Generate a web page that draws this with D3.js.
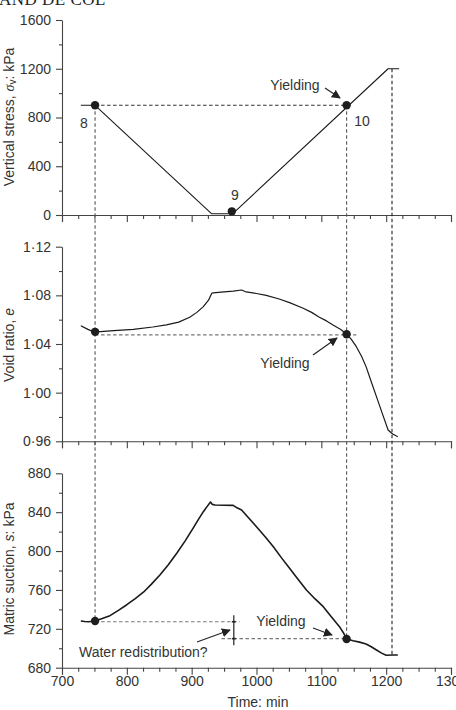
<!DOCTYPE html>
<html><head><meta charset="utf-8">
<script src="https://cdn.jsdelivr.net/npm/d3@7"></script>
<style>
html,body{margin:0;padding:0;background:#fff;}
svg{display:block;font-family:"Liberation Sans",Arial,sans-serif;}
</style></head>
<body><svg id="c" width="456" height="710"></svg>
<script>
// ---- data ----
const xTicks = [700, 800, 900, 1000, 1100, 1200, 1300];
const stressTicks = [0, 400, 800, 1200, 1600];
const voidTicks = [0.96, 1.00, 1.04, 1.08, 1.12];
const suctionTicks = [680, 720, 760, 800, 840, 880];

const stressTime = [729, 751, 931, 963, 1203, 1220];
const stressVal  = [900, 900, 10, 10, 1200, 1200];

const voidTime = [729, 740, 751, 754, 780, 810, 840, 861, 880, 897, 908, 918, 926, 931, 933, 950, 964, 977, 984, 1000, 1015, 1035, 1051, 1072, 1085, 1097, 1108, 1118, 1130, 1139, 1146, 1154, 1162, 1169, 1177, 1185, 1194, 1203, 1210, 1218];
const voidVal  = [1.055, 1.052, 1.0495, 1.050, 1.051, 1.052, 1.054, 1.0557, 1.058, 1.062, 1.066, 1.0707, 1.076, 1.0817, 1.082, 1.0828, 1.0834, 1.0844, 1.0828, 1.0815, 1.080, 1.077, 1.074, 1.0694, 1.066, 1.062, 1.059, 1.0556, 1.052, 1.0483, 1.044, 1.0378, 1.030, 1.0214, 1.009, 0.9967, 0.983, 0.9693, 0.966, 0.9638];

const suctionTime = [729, 735, 741, 751, 762, 774, 787, 800, 813, 826, 838, 851, 864, 877, 890, 903, 910, 918, 924, 929, 932, 936, 950, 964, 970, 977, 988, 1000, 1013, 1026, 1038, 1051, 1064, 1077, 1090, 1103, 1116, 1128, 1134, 1139, 1149, 1159, 1169, 1177, 1185, 1193, 1200, 1210, 1218];
const suctionVal  = [728, 727.5, 727.3, 728, 730.5, 733.5, 739, 744.8, 751, 757.9, 766, 775.4, 786, 797.7, 810.5, 824.4, 832, 840.5, 846, 850.5, 848, 847.4, 847.2, 847, 844.5, 842.2, 834, 825, 815, 804.5, 793.5, 782.3, 771, 760, 751, 742.8, 732, 722.2, 716, 709.5, 707.8, 706.3, 704.4, 701.5, 698.2, 695, 692.8, 693, 693];

const points8 = {time: 751, stress: 900, e: 1.050, s: 728};
const points9 = {time: 962, stress: 30};
const points10 = {time: 1139, stress: 900, e: 1.048, s: 709.5};

// ---- scales ----
const svg = d3.select("#c");
const x = d3.scaleLinear().domain([700, 1300]).range([62, 451]);
const yTop = d3.scaleLinear().domain([0, 1600]).range([215, 20]);
const yMid = d3.scaleLinear().domain([0.96, 1.12]).range([441.3, 246.7]);
const yBot = d3.scaleLinear().domain([680, 880]).range([667.7, 473.3]);

const axisColor = "#444";
const textColor = "#333";

function styleAxis(g) {
  g.selectAll("path,line").attr("stroke", axisColor).attr("stroke-width", 1.1);
  g.selectAll("text").attr("fill", textColor).style("font-size", "14px").style("font-family", '"Liberation Sans",Arial,sans-serif');
}

const minorX = d3.range(700, 1301, 25).filter(v => v % 100 !== 0);

function drawPanel(y, ticks, minorTicks, fmt, showXLabels) {
  const yb = y.range()[0];
  svg.append("g").attr("transform", `translate(0,${yb})`)
    .call(d3.axisBottom(x).tickValues(minorX).tickSize(4).tickFormat(""))
    .call(g => g.select(".domain").remove())
    .call(styleAxis);
  svg.append("g").attr("transform", `translate(0,${yb})`)
    .call(d3.axisBottom(x).tickValues(xTicks).tickSizeOuter(0).tickSize(7).tickPadding(1).tickFormat(showXLabels ? d3.format("d") : ""))
    .call(styleAxis);
  svg.append("g").attr("transform", `translate(62,0)`)
    .call(d3.axisLeft(y).tickValues(minorTicks).tickSize(3).tickFormat(""))
    .call(g => g.select(".domain").remove())
    .call(styleAxis);
  svg.append("g").attr("transform", `translate(62,0)`)
    .call(d3.axisLeft(y).tickValues(ticks).tickSize(6).tickSizeOuter(0).tickPadding(5).tickFormat(fmt))
    .call(styleAxis);
}

drawPanel(yTop, stressTicks, [200, 600, 1000, 1400], d3.format("d"), false);
drawPanel(yMid, voidTicks, [0.98, 1.02, 1.06, 1.10], d => d3.format(".2f")(d).replace(".", "\u00B7"), false);
drawPanel(yBot, suctionTicks, [700, 740, 780, 820, 860], d3.format("d"), true);

// ---- dashed guides ----
const dash = {stroke: "#555", "stroke-width": 1.1, "stroke-dasharray": "3.5,2.5", fill: "none"};
function dline(x1, y1, x2, y2, col) {
  const l = svg.append("line").attr("x1", x1).attr("y1", y1).attr("x2", x2).attr("y2", y2);
  Object.entries(dash).forEach(([k, v]) => l.attr(k, v));
  if (col) l.attr("stroke", col);
}
dline(x(points8.time), yTop(points8.stress), x(points10.time), yTop(points10.stress), "#333");
dline(x(points8.time), yTop(points8.stress), x(points8.time), yBot(points8.s));
dline(x(points10.time), yTop(points10.stress), x(points10.time), yBot(points10.s));
dline(x(1209), yTop(1200), x(1209), yBot(692.8), "#222");
dline(x(points8.time), yMid(1.0475), x(1154), yMid(1.0475), "#777");
dline(x(points8.time), yBot(727.3), x(974), yBot(727.3), "#777");
dline(x(946), yBot(709.9), x(points10.time), yBot(709.9), "#777");

// ---- curves ----
const lineCol = "#1a1a1a";
function curve(times, vals, y, w) {
  svg.append("path")
    .datum(times.map((t, i) => [t, vals[i]]))
    .attr("fill", "none").attr("stroke", lineCol).attr("stroke-width", w)
    .attr("stroke-linejoin", "round")
    .attr("d", d3.line().x(d => x(d[0])).y(d => y(d[1])));
}
curve(stressTime, stressVal, yTop, 1.1);
curve(voidTime, voidVal, yMid, 1.2);
curve(suctionTime, suctionVal, yBot, 1.6);

// water redistribution bracket
svg.append("line").attr("x1", x(965)).attr("x2", x(965)).attr("y1", yBot(734)).attr("y2", yBot(703))
  .attr("stroke", "#222").attr("stroke-width", 1.2);
[727.3, 709.9].forEach(v => svg.append("line").attr("x1", x(965) - 2).attr("x2", x(965) + 2)
  .attr("y1", yBot(v)).attr("y2", yBot(v)).attr("stroke", "#222").attr("stroke-width", 1.6));

// ---- markers ----
const mk = [[points8.time, yTop(points8.stress)], [points9.time, yTop(points9.stress)], [points10.time, yTop(points10.stress)],
            [points8.time, yMid(points8.e)], [points10.time, yMid(points10.e)],
            [points8.time, yBot(points8.s)], [points10.time, yBot(points10.s)]];
mk.forEach(([t, yy]) => svg.append("circle").attr("cx", x(t)).attr("cy", yy).attr("r", 4.2).attr("fill", "#1e1e1e"));

// ---- arrows ----
svg.append("defs").append("marker").attr("id", "ah").attr("viewBox", "0 0 10 10")
  .attr("refX", 9).attr("refY", 5).attr("markerWidth", 9).attr("markerHeight", 9)
  .attr("markerUnits", "userSpaceOnUse").attr("orient", "auto")
  .append("path").attr("d", "M0,0 L10,5 L0,10 Z").attr("fill", "#222");
function arrow(x1, y1, x2, y2) {
  svg.append("line").attr("x1", x1).attr("y1", y1).attr("x2", x2).attr("y2", y2)
    .attr("stroke", "#222").attr("stroke-width", 1.1).attr("marker-end", "url(#ah)");
}
arrow(325, 88, 340, 98);
arrow(313, 355, 337, 338);
arrow(313, 628, 332, 635);
arrow(197, 642, 230, 630);

// ---- texts ----
function txt(s, xx, yy, anchor, size) {
  return svg.append("text").attr("x", xx).attr("y", yy).attr("text-anchor", anchor || "middle")
    .attr("dominant-baseline", "central").attr("fill", textColor).style("font-size", (size || 14) + "px").text(s);
}
txt("8", 84, 123);
txt("9", 235, 195);
txt("10", 362, 121);
txt("Yielding", 295, 85);
txt("Yielding", 285, 363);
txt("Yielding", 281, 621);
txt("Water redistribution?", 79, 652, "start");
txt("Time: min", 258, 702);

// header fragment
svg.append("text").attr("x", -1).attr("y", 5).attr("fill", "#222")
  .style("font-family", '"Liberation Serif","Times New Roman",serif').style("font-size", "17px")
  .style("letter-spacing", "0.5px").text("AND DE COL");

// y labels
function ylab(cx, cy, build) {
  const t = svg.append("text").attr("transform", `translate(${cx},${cy}) rotate(-90)`)
    .attr("text-anchor", "middle").attr("dominant-baseline", "central")
    .attr("fill", textColor).style("font-size", "14px");
  build(t);
}
ylab(9, 117, t => {
  t.append("tspan").text("Vertical stress, ");
  t.append("tspan").style("font-style", "italic").style("font-family", '"Liberation Serif",serif').text("σ");
  t.append("tspan").attr("dy", 3).style("font-size", "10px").text("v");
  t.append("tspan").attr("dy", -3).text(": kPa");
});
ylab(9, 345, t => {
  t.append("tspan").text("Void ratio, ");
  t.append("tspan").style("font-style", "italic").text("e");
});
ylab(9, 569, t => {
  t.append("tspan").text("Matric suction, ");
  t.append("tspan").style("font-style", "italic").text("s");
  t.append("tspan").text(": kPa");
});
</script></body></html>
